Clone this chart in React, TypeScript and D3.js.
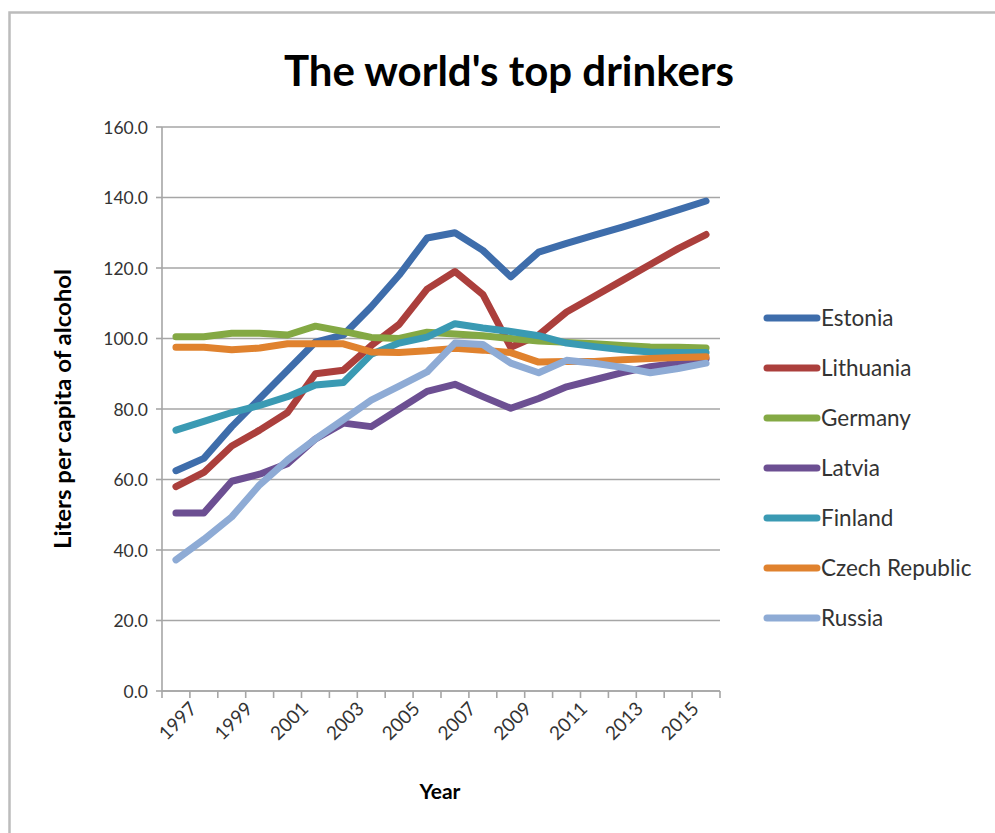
import React from "react";
import * as d3 from "d3";

const years = d3.range(1997, 2017);
const yTicks = [0, 20, 40, 60, 80, 100, 120, 140, 160];
const xTickLabels = [1997, 1999, 2001, 2003, 2005, 2007, 2009, 2011, 2013, 2015];

const estonia = [62.5, 66, 75, 83, 91, 99, 101, 109, 118, 128.5, 130, 125, 117.5, 124.5, 127, 129.3, 131.6, 134, 136.5, 139];
const lithuania = [58, 62, 69.5, 74, 79, 90, 91, 98, 104, 114, 119, 112.5, 97.5, 101, 107.5, 112, 116.5, 121, 125.5, 129.5];
const germany = [100.5, 100.5, 101.5, 101.5, 101, 103.5, 102, 100.3, 100, 101.8, 101.3, 100.8, 100, 99.3, 98.9, 98.5, 98, 97.6, 97.5, 97.3];
const latvia = [50.5, 50.5, 59.5, 61.5, 64.5, 71.5, 76, 75, 80, 85, 87, 83.5, 80.2, 83, 86.3, 88.3, 90.3, 92, 93, 94.3];
const finland = [74, 76.5, 79, 81, 83.5, 86.8, 87.5, 95.5, 98.7, 100.4, 104.2, 103, 102, 100.8, 98.7, 97.7, 96.8, 96.2, 96, 96];
const czech = [97.5, 97.5, 96.8, 97.3, 98.5, 98.5, 98.5, 96.2, 96, 96.5, 97.2, 96.7, 96, 93.3, 93.5, 93.5, 94, 94.3, 94.6, 94.8];
const russia = [37.2, 43, 49.4, 58.5, 65.5, 71.5, 77, 82.5, 86.5, 90.5, 98.7, 98.3, 93, 90.3, 93.8, 93, 91.8, 90.3, 91.5, 93];

const seriesNames = ["Estonia", "Lithuania", "Germany", "Latvia", "Finland", "Czech Republic", "Russia"];
const seriesValues = [estonia, lithuania, germany, latvia, finland, czech, russia];
const seriesColors = ["#3e6dab", "#ab3f3c", "#84a944", "#6c4f92", "#3a9ab3", "#e0822e", "#8eabd5"];

const W = 995;
const H = 833;
const plot = { left: 162, right: 720, top: 127, bottom: 691 };
const font = "Lato, 'Open Sans', sans-serif";

export default function App() {
  const x = d3.scaleBand<number>().domain(years).range([plot.left, plot.right]).padding(0);
  const y = d3.scaleLinear().domain([0, 160]).range([plot.bottom, plot.top]);
  const cx = (yr: number) => (x(yr) as number) + x.bandwidth() / 2;

  const line = d3
    .line<number>()
    .x((_, i) => cx(years[i]))
    .y((v) => y(v));

  const boundaries = d3.range(years.length + 1).map((i) => plot.left + i * x.bandwidth());

  return (
    <svg width={W} height={H} style={{ position: "absolute", left: 0, top: 0 }}>
      <rect x={0} y={0} width={W} height={H} fill="#fff" />
      <rect x={9.5} y={12.5} width={W + 20} height={H + 20} fill="none" stroke="#bcbcbc" strokeWidth={2.5} />

      <text x={509} y={86} textAnchor="middle" fontFamily={font} fontWeight={700} fontSize={42} fill="#000">
        The world's top drinkers
      </text>

      {/* horizontal gridlines */}
      {yTicks.map((t) => (
        <line key={t} x1={plot.left} x2={plot.right} y1={y(t)} y2={y(t)} stroke="#a6a6a6" strokeWidth={1.6} />
      ))}

      {/* y axis */}
      <line x1={plot.left} x2={plot.left} y1={plot.top} y2={plot.bottom} stroke="#a6a6a6" strokeWidth={1.6} />
      {yTicks.map((t) => (
        <g key={"yt" + t}>
          <line x1={plot.left - 6} x2={plot.left} y1={y(t)} y2={y(t)} stroke="#a6a6a6" strokeWidth={1.6} />
          <text x={148} y={y(t) + 6.5} textAnchor="end" fontFamily={font} fontSize={17.5} fill="#333">
            {t.toFixed(1)}
          </text>
        </g>
      ))}

      {/* x axis */}
      <line x1={plot.left} x2={plot.right} y1={plot.bottom} y2={plot.bottom} stroke="#a6a6a6" strokeWidth={1.6} />
      {boundaries.map((bx, i) => (
        <line key={"xt" + i} x1={bx} x2={bx} y1={plot.bottom} y2={plot.bottom + 7} stroke="#a6a6a6" strokeWidth={1.6} />
      ))}
      {xTickLabels.map((yr) => (
        <text
          key={"xl" + yr}
          transform={`translate(${cx(yr) + 22},${plot.bottom + 19}) rotate(-45)`}
          textAnchor="end"
          fontFamily={font}
          fontSize={19}
          fill="#333"
        >
          {yr}
        </text>
      ))}

      {/* axis titles */}
      <text x={440} y={799} textAnchor="middle" fontFamily={font} fontWeight={700} fontSize={21} fill="#000">
        Year
      </text>
      <text
        transform={`translate(71,${(plot.top + plot.bottom) / 2}) rotate(-90)`}
        textAnchor="middle"
        fontFamily={font}
        fontWeight={700}
        fontSize={22}
        textLength={280}
        lengthAdjust="spacingAndGlyphs"
        fill="#000"
      >
        Liters per capita of alcohol
      </text>

      {/* series */}
      {seriesValues.map((vals, i) => (
        <path
          key={seriesNames[i]}
          d={line(vals) || ""}
          fill="none"
          stroke={seriesColors[i]}
          strokeWidth={7}
          strokeLinejoin="round"
          strokeLinecap="round"
        />
      ))}

      {/* legend */}
      {seriesNames.map((name, i) => {
        const ly = 318 + i * 50;
        return (
          <g key={"lg" + name}>
            <line x1={767} x2={817} y1={ly} y2={ly} stroke={seriesColors[i]} strokeWidth={7} strokeLinecap="round" />
            <text x={821} y={ly + 8} fontFamily={font} fontSize={22.5} fill="#333">
              {name}
            </text>
          </g>
        );
      })}
    </svg>
  );
}
